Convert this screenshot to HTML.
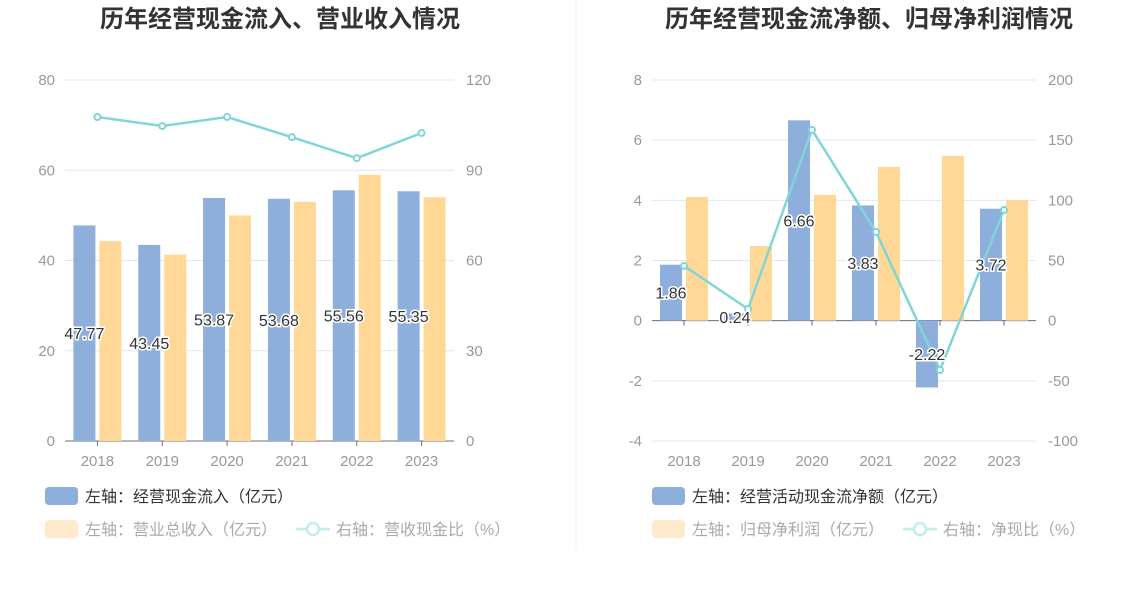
<!DOCTYPE html>
<html><head><meta charset="utf-8">
<style>
body{margin:0;background:#fff;width:1148px;height:589px;overflow:hidden;font-family:"Liberation Sans","Noto Sans CJK SC",sans-serif;}
svg text{font-family:"Liberation Sans","Noto Sans CJK SC",sans-serif;}
</style></head><body>
<svg id="c" width="1148" height="589"></svg>
<script>
const categories=["2018","2019","2020","2021","2022","2023"];
const inflow=[47.77,43.45,53.87,53.68,55.56,55.35];
const revenue=[44.3,41.3,50.0,53.0,59.0,54.0];
const cashRatio=[107.7,104.7,107.7,101.0,94.0,102.4];
const leftTicks1=[0,20,40,60,80];
const rightTicks1=[0,30,60,90,120];
const netCash=[1.86,0.24,6.66,3.83,-2.22,3.72];
const netProfit=[4.11,2.48,4.18,5.11,5.48,4.01];
const netRatio=[45.5,9.7,158.6,73.7,-41.0,92.0];
const leftTicks2=[-4,-2,0,2,4,6,8];
const rightTicks2=[-100,-50,0,50,100,150,200];

const NS="http://www.w3.org/2000/svg";
const svg=document.getElementById('c');
function mk(tag,attrs,parent,text){const e=document.createElementNS(NS,tag);for(const k in attrs)e.setAttribute(k,attrs[k]);if(text!==undefined)e.textContent=text;(parent||svg).appendChild(e);return e;}

function chart(o){
  const g=mk('g',{});
  
  
  const top=80,bot=441;
  const ly=v=>bot-(v-o.lmin)/(o.lmax-o.lmin)*(bot-top);
  const ry=v=>bot-(v-o.rmin)/(o.rmax-o.rmin)*(bot-top);
  const bw=(o.x1-o.x0)/categories.length;
  const cx=i=>o.x0+bw*(i+0.5);
  const t=mk('text',{x:o.tx,y:27,'text-anchor':'middle','font-size':24,'font-weight':'bold',fill:'#333'},g,o.title);
  
  
  o.lt.forEach((v,i)=>{
    const y=ly(v);
    if(v!==0||o.lmin<0) mk('line',{x1:o.x0,x2:o.x1,y1:y,y2:y,stroke:'#e0e6f1'},g);
    const a=mk('text',{x:o.x0-10,y:y+5,'text-anchor':'end','font-size':15,fill:'#999'},g,String(v));
    
    
    const b=mk('text',{x:o.x1+12,y:y+5,'text-anchor':'start','font-size':15,fill:'#999'},g,String(o.rt[i]));
    
    
  });
  const zy=ly(0);
  mk('line',{x1:o.x0,x2:o.x1,y1:zy,y2:zy,stroke:'#6e7079'},g);
  categories.forEach((c,i)=>{
    mk('line',{x1:cx(i),x2:cx(i),y1:zy,y2:zy+5,stroke:'#6e7079'},g);
    const l=mk('text',{x:cx(i),y:466,'text-anchor':'middle','font-size':15,fill:'#999'},g,c);
    
    
  });
  const w=22;
  o.s1.forEach((v,i)=>{
    const y=ly(v);
    const r=mk('rect',{x:cx(i)-w-2,y:Math.min(y,zy),width:w,height:Math.abs(zy-y),fill:'#8eaedc'},g);
    
    
  });
  o.s2.forEach((v,i)=>{
    const y=ly(v);
    const r=mk('rect',{x:cx(i)+2,y:Math.min(y,zy),width:w,height:Math.abs(zy-y),fill:'#ffd898'},g);
    
    
  });
  const pts=o.s3.map((v,i)=>cx(i)+','+ry(v)).join(' ');
  const pl=mk('polyline',{points:pts,fill:'none',stroke:'#82d5d7','stroke-width':2.5},g);
  
  
  o.s3.forEach((v,i)=>{
    const c=mk('circle',{cx:cx(i),cy:ry(v),r:3,fill:'#fff',stroke:'#82d5d7','stroke-width':2},g);
    
    
  });
  o.s1.forEach((v,i)=>{
    const y=(ly(v)+zy)/2;
    const l=mk('text',{x:cx(i)-w/2-2,y:y+6,'text-anchor':'middle','font-size':16,fill:'#333',stroke:'#fff','stroke-width':3,'paint-order':'stroke'},g,v.toFixed(2));
    
    
  });
  const L=o.leg;
  const r1=mk('rect',{x:L.x,y:487,width:33,height:18,rx:4,fill:'#8eaedc'},g);
  
  
  const t1=mk('text',{x:L.x+40,y:502,'font-size':16,fill:'#333'},g,L.t1);
  
  
  const r2=mk('rect',{x:L.x,y:520,width:33,height:18,rx:4,fill:'#ffebcc'},g);
  
  
  const t2=mk('text',{x:L.x+40,y:535,'font-size':16,fill:'#aaa'},g,L.t2);
  
  
  mk('line',{x1:L.lx,x2:L.lx+34,y1:529,y2:529,stroke:'#c4ecee','stroke-width':2.5},g);
  const lc=mk('circle',{cx:L.lx+17,cy:529,r:6,fill:'#fff',stroke:'#c4ecee','stroke-width':2.5},g);
  
  
  const t3=mk('text',{x:L.lx+40,y:535,'font-size':16,fill:'#aaa'},g,L.t3);
  
  
}
chart({name:'left-chart',title:'历年经营现金流入、营业收入情况',tx:280,x0:65,x1:454,lmin:0,lmax:80,rmin:0,rmax:120,lt:leftTicks1,rt:rightTicks1,s1:inflow,s2:revenue,s3:cashRatio,
  leg:{x:45,t1:'左轴：经营现金流入（亿元）',t2:'左轴：营业总收入（亿元）',lx:296,t3:'右轴：营收现金比（%）'}});
chart({name:'right-chart',title:'历年经营现金流净额、归母净利润情况',tx:869,x0:652,x1:1036,lmin:-4,lmax:8,rmin:-100,rmax:200,lt:leftTicks2,rt:rightTicks2,s1:netCash,s2:netProfit,s3:netRatio,
  leg:{x:652,t1:'左轴：经营活动现金流净额（亿元）',t2:'左轴：归母净利润（亿元）',lx:903,t3:'右轴：净现比（%）'}});
const d=mk('line',{x1:576,x2:576,y1:0,y2:550,stroke:'#f0f0f0'});


</script>
</body></html>
